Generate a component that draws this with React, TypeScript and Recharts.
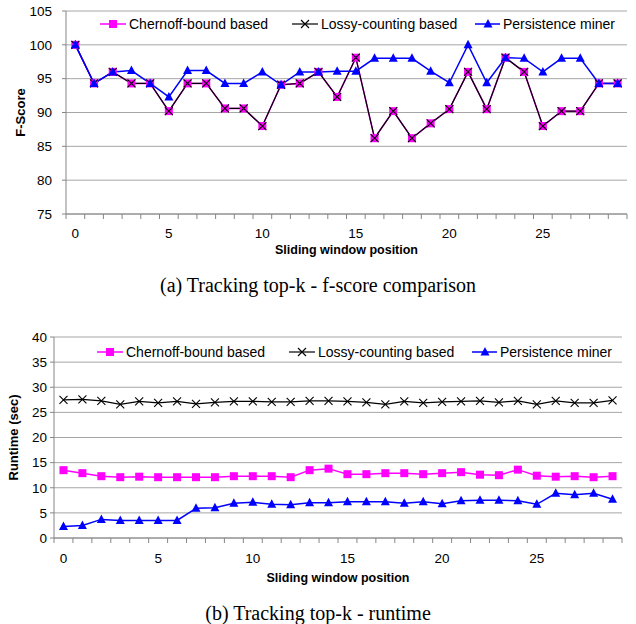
import React from "react";
import {
  LineChart,
  Line,
  XAxis,
  YAxis,
  CartesianGrid,
} from "recharts";

// window positions along the x axis
const positions = [0, 1, 2, 3, 4, 5, 6, 7, 8, 9, 10, 11, 12, 13, 14, 15, 16, 17, 18, 19, 20, 21, 22, 23, 24, 25, 26, 27, 28, 29];
const xLabelTicks = [0, 5, 10, 15, 20, 25];

// (a) f-score
const fChernoff = [100, 94.3, 96, 94.3, 94.3, 90.2, 94.3, 94.3, 90.6, 90.6, 88, 94.1, 94.3, 96, 92.3, 98.1, 86.2, 90.2, 86.2, 88.4, 90.5, 96, 90.5, 98.1, 96, 88, 90.2, 90.2, 94.3, 94.3];
const fLossy = [100, 94.3, 96, 94.3, 94.3, 90.2, 94.3, 94.3, 90.6, 90.6, 88, 94.1, 94.3, 96, 92.3, 98.1, 86.2, 90.2, 86.2, 88.4, 90.5, 96, 90.5, 98.1, 96, 88, 90.2, 90.2, 94.3, 94.3];
const fPersist = [100, 94.3, 96, 96.2, 94.3, 92.3, 96.2, 96.2, 94.3, 94.3, 96, 94.1, 96, 96, 96.1, 96.1, 98, 98, 98, 96.1, 94.4, 100, 94.4, 98.1, 98, 96, 98, 98, 94.3, 94.3];
const fTicks = [75, 80, 85, 90, 95, 100, 105];

// (b) runtime in seconds
const rtChernoff = [13.5, 12.9, 12.3, 12.1, 12.2, 12.1, 12.1, 12.1, 12.1, 12.3, 12.3, 12.3, 12.1, 13.5, 13.8, 12.7, 12.7, 12.9, 12.9, 12.7, 12.9, 13.1, 12.6, 12.5, 13.6, 12.4, 12.2, 12.3, 12.1, 12.3];
const rtLossy = [27.5, 27.6, 27.3, 26.6, 27.2, 26.9, 27.2, 26.7, 27.0, 27.2, 27.2, 27.1, 27.1, 27.3, 27.3, 27.2, 27.0, 26.6, 27.2, 26.9, 27.1, 27.2, 27.3, 27.0, 27.3, 26.6, 27.3, 26.9, 26.9, 27.4];
const rtPersist = [2.3, 2.5, 3.7, 3.5, 3.5, 3.5, 3.5, 5.9, 6.0, 6.9, 7.1, 6.7, 6.6, 7.0, 7.0, 7.2, 7.2, 7.2, 6.9, 7.2, 6.8, 7.4, 7.5, 7.5, 7.4, 6.7, 8.9, 8.6, 8.9, 7.7];
const rtTicks = [0, 5, 10, 15, 20, 25, 30, 35, 40];

const seriesNames = ["Chernoff-bound based", "Lossy-counting based", "Persistence miner"];

const MAGENTA = "#ff00ff";
const BLUE = "#0000ff";
const AXIS = "#868686";
const GRID = "#a6a6a6";

// marker shapes, Excel style
function Square({ cx, cy }: any) {
  if (cx == null || cy == null) return null;
  return <rect x={cx - 4} y={cy - 4} width={8} height={8} fill={MAGENTA} />;
}
function Cross({ cx, cy }: any) {
  if (cx == null || cy == null) return null;
  return (
    <path
      d={`M${cx - 4},${cy - 4}L${cx + 4},${cy + 4}M${cx + 4},${cy - 4}L${cx - 4},${cy + 4}`}
      stroke="#000"
      strokeWidth={1.1}
      fill="none"
    />
  );
}
function Triangle({ cx, cy }: any) {
  if (cx == null || cy == null) return null;
  return <path d={`M${cx},${cy - 5}L${cx + 4.5},${cy + 3.5}L${cx - 4.5},${cy + 3.5}Z`} fill={BLUE} />;
}

const markers = [Square, Cross, Triangle];
const colors = [MAGENTA, "#000", BLUE];
const widths = [1.5, 1.2, 1.5];

function LegendRow({ left, top }: { left: number; top: number }) {
  const itemW = [192, 183, 140];
  return (
    <div style={{ position: "absolute", left, top, display: "flex", alignItems: "center", fontSize: 14, color: "#000" }}>
      {seriesNames.map((name, i) => {
        const M = markers[i];
        return (
          <div key={name} style={{ display: "flex", alignItems: "center", width: itemW[i] }}>
            <svg width={26} height={12} style={{ marginRight: 3 }}>
              <line x1={0} y1={6} x2={26} y2={6} stroke={colors[i]} strokeWidth={widths[i]} />
              <M cx={13} cy={6} />
            </svg>
            <span style={{ whiteSpace: "nowrap" }}>{name}</span>
          </div>
        );
      })}
    </div>
  );
}

function VLabel({ viewBox, text, x0 }: any) {
  const cy = viewBox.y + viewBox.height / 2;
  return (
    <text
      x={x0}
      y={cy}
      transform={`rotate(-90, ${x0}, ${cy})`}
      textAnchor="middle"
      dominantBaseline="central"
      fontSize={13}
      fontWeight="bold"
      fill="#000"
    >
      {text}
    </text>
  );
}

interface PanelProps {
  values: number[][];
  yTicks: number[];
  yTitle: string;
  yTitleX: number;
  yWidth: number;
  yTickMargin: number;
  xTickMargin: number;
  xTitleOffset: number;
  height: number;
  margin: { top: number; right: number; left: number; bottom: number };
  labelsHeight: number;
  legendPos: { left: number; top: number };
}

function Panel({ values, yTicks, yTitle, yTitleX, yWidth, yTickMargin, xTickMargin, xTitleOffset, height, margin, labelsHeight, legendPos }: PanelProps) {
  const data = positions.map((p, i) => ({
    pos: p,
    chernoff: values[0][i],
    lossy: values[1][i],
    persist: values[2][i],
  }));
  const bounds = positions.map((p) => p - 0.5).concat([positions[positions.length - 1] + 0.5]);
  const keys = ["chernoff", "lossy", "persist"];

  // axis ids sort so the tick-mark axis sits right under the plot
  return (
    <div style={{ position: "relative", width: 636, height }}>
      <LineChart width={636} height={height} data={data} margin={margin}>
        <CartesianGrid xAxisId="b_labels" vertical={false} stroke={GRID} />
        <XAxis
          xAxisId="a_marks"
          type="number"
          dataKey="pos"
          domain={[-0.5, 29.5]}
          ticks={bounds}
          interval={0}
          tickFormatter={() => ""}
          tickSize={5}
          height={6}
          axisLine={{ stroke: AXIS }}
          tickLine={{ stroke: AXIS }}
        />
        <XAxis
          xAxisId="b_labels"
          type="number"
          dataKey="pos"
          domain={[-0.5, 29.5]}
          ticks={xLabelTicks}
          interval={0}
          tickLine={false}
          axisLine={false}
          tickSize={0}
          tickMargin={xTickMargin}
          height={labelsHeight}
          tick={{ fill: "#000", fontSize: 13.5 }}
          label={{
            value: "Sliding window position",
            position: "insideBottom",
            offset: xTitleOffset,
            style: { fontWeight: "bold", fontSize: 12.5, fill: "#000" },
          }}
        />
        <YAxis
          type="number"
          domain={[yTicks[0], yTicks[yTicks.length - 1]]}
          ticks={yTicks}
          interval={0}
          width={yWidth}
          tickSize={4}
          tickMargin={yTickMargin}
          axisLine={{ stroke: AXIS }}
          tickLine={{ stroke: AXIS }}
          tick={{ fill: "#000", fontSize: 13.5 }}
          label={<VLabel text={yTitle} x0={yTitleX} />}
        />
        {keys.map((k, i) => {
          const M = markers[i];
          return (
            <Line
              key={k}
              xAxisId="b_labels"
              dataKey={k}
              name={seriesNames[i]}
              stroke={colors[i]}
              strokeWidth={widths[i]}
              dot={(p: any) => <M key={`${k}-${p.index}`} cx={p.cx} cy={p.cy} />}
              activeDot={false}
              isAnimationActive={false}
            />
          );
        })}
      </LineChart>
      <LegendRow left={legendPos.left} top={legendPos.top} />
    </div>
  );
}

const captionStyle: React.CSSProperties = {
  position: "absolute",
  left: 0,
  width: 636,
  textAlign: "center",
  fontFamily: '"Liberation Serif", "Times New Roman", serif',
  fontSize: 20,
  lineHeight: "24px",
  color: "#000",
};

export default function App() {
  return (
    <div
      style={{
        position: "absolute",
        left: 0,
        top: 0,
        width: 636,
        height: 624,
        background: "#fff",
        fontFamily: '"Liberation Sans", Arial, sans-serif',
        overflow: "hidden",
      }}
    >
      <div style={{ position: "absolute", left: 0, top: 0 }}>
        <Panel
          values={[fChernoff, fLossy, fPersist]}
          yTicks={fTicks}
          yTitle="F-Score"
          yTitleX={20}
          yWidth={66}
          yTickMargin={10}
          xTickMargin={8}
          xTitleOffset={6}
          height={260}
          margin={{ top: 11, right: 9, left: 0, bottom: 0 }}
          labelsHeight={40}
          legendPos={{ left: 100, top: 16 }}
        />
      </div>
      <div style={{ ...captionStyle, top: 273 }}>(a) Tracking top-k - f-score comparison</div>
      <div style={{ position: "absolute", left: 0, top: 312 }}>
        <Panel
          values={[rtChernoff, rtLossy, rtPersist]}
          yTicks={rtTicks}
          yTitle="Runtime (sec)"
          yTitleX={13}
          yWidth={54}
          yTickMargin={3}
          xTickMargin={9}
          xTitleOffset={4}
          height={274}
          margin={{ top: 25, right: 14, left: 0, bottom: 0 }}
          labelsHeight={42}
          legendPos={{ left: 97, top: 32 }}
        />
      </div>
      <div style={{ ...captionStyle, top: 601 }}>(b) Tracking top-k - runtime</div>
    </div>
  );
}
